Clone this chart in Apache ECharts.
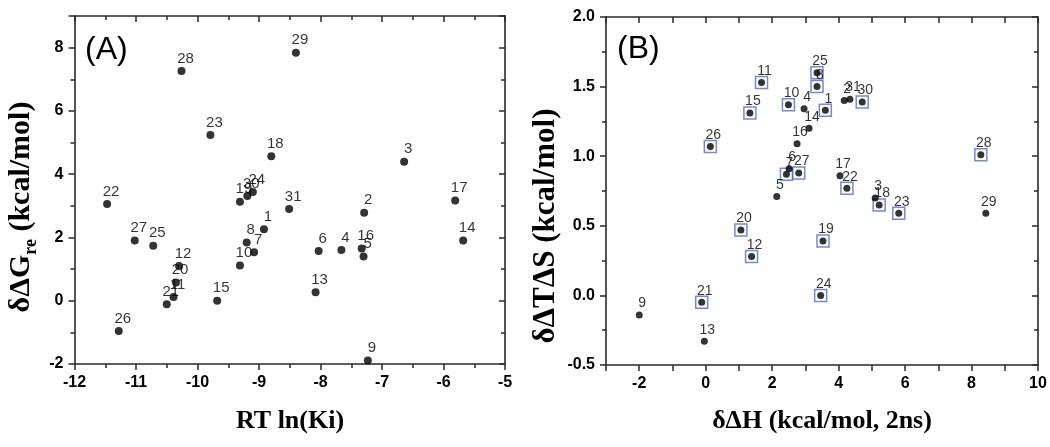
<!DOCTYPE html>
<html><head><meta charset="utf-8">
<script src="https://cdn.jsdelivr.net/npm/echarts@6/dist/echarts.min.js"></script>
<style>html,body{margin:0;padding:0;background:#fff}#c{width:1050px;height:447px}</style>
</head><body><div id="c"></div>
<script>
// Panel A: RT ln(Ki) vs δΔG_re
const idsA = [1,2,3,4,5,6,7,8,9,10,11,12,13,14,15,16,17,18,19,20,21,22,23,24,25,26,27,28,29,30,31];
const rtLnKi = [-8.92,-7.29,-6.64,-7.66,-7.30,-8.03,-9.08,-9.20,-7.23,-9.31,-10.39,-10.30,-8.08,-5.68,-9.68,-7.33,-5.81,-8.80,-9.31,-10.35,-10.50,-11.47,-9.79,-9.10,-10.72,-11.28,-11.02,-10.26,-8.40,-9.19,-8.51];
const ddGre  = [2.26,2.78,4.39,1.60,1.40,1.57,1.53,1.84,-1.89,1.11,0.12,1.10,0.27,1.90,0.00,1.65,3.17,4.57,3.13,0.58,-0.11,3.06,5.24,3.44,1.74,-0.96,1.90,7.26,7.84,3.31,2.90];
// Panel B: δΔH vs δΔTΔS
const idsB = [1,2,3,4,5,6,7,8,9,10,11,12,13,14,15,16,17,18,19,20,21,22,23,24,25,26,27,28,29,30,31];
const ddH   = [3.60,4.17,5.10,2.96,2.14,2.51,2.43,3.35,-2.00,2.49,1.68,1.38,-0.04,3.11,1.33,2.75,4.04,5.22,3.53,1.06,-0.12,4.25,5.81,3.46,3.35,0.14,2.80,8.28,8.43,4.71,4.34];
const ddTdS = [1.33,1.40,0.70,1.34,0.71,0.91,0.87,1.50,-0.14,1.37,1.53,0.28,-0.33,1.20,1.31,1.09,0.86,0.65,0.39,0.47,-0.05,0.77,0.59,0.00,1.60,1.07,0.88,1.01,0.59,1.39,1.41];
const boxedB = [1,7,8,10,11,12,15,18,19,20,21,22,23,24,25,26,27,28,30];
const xLabelsB = [-2,0,2,4,6,8,10];

const dataA = idsA.map((id,i)=>[rtLnKi[i], ddGre[i], id]);
const dataB = idsB.map((id,i)=>[ddH[i], ddTdS[i], id]);
const boxData = dataB.filter(d=>boxedB.indexOf(d[2])>=0);

const AX = '#2a2a2a';
const lineS = {lineStyle:{color:AX,width:1.6}};
const lblS = {color:'#000',fontWeight:'bold',fontSize:16,fontFamily:'"Liberation Sans", Arial, sans-serif'};

function mainAxis(grid, pos, min, max, interval, minorSplit, extraLabel){
  return {
    type:'value', gridIndex:grid, position:pos, min:min, max:max, interval:interval,
    axisLine:Object.assign({show:true,onZero:false},lineS),
    axisTick:{show:true,inside:false,length:6,lineStyle:{color:AX,width:1.5}},
    minorTick:{show:minorSplit>1,splitNumber:minorSplit,length:4,lineStyle:{color:AX,width:1.5}},
    axisLabel:Object.assign({show:true,margin:11},lblS,extraLabel||{}),
    splitLine:{show:false}, minorSplitLine:{show:false}
  };
}
function mirrorAxis(grid, pos, min, max, interval, minorSplit){
  return {
    type:'value', gridIndex:grid, position:pos, min:min, max:max, interval:interval,
    axisLine:Object.assign({show:true,onZero:false},lineS),
    axisTick:{show:true,inside:true,length:6,lineStyle:{color:AX,width:1.5}},
    minorTick:{show:minorSplit>1,splitNumber:minorSplit,length:4,lineStyle:{color:AX,width:1.5}},
    axisLabel:{show:false}, splitLine:{show:false}, minorSplitLine:{show:false}
  };
}

const labelFont = '"Liberation Sans", Arial, sans-serif';
const titleFont = '"Liberation Serif", "Times New Roman", serif';

const option = {
  animation:false,
  backgroundColor:'#fff',
  grid:[
    {left:74.5, top:16, width:430.5, height:348, outerBoundsMode:'none', containLabel:false},
    {left:606, top:17, width:432, height:348, outerBoundsMode:'none', containLabel:false}
  ],
  xAxis:[
    mainAxis(0,'bottom',-12,-5,1,2),
    mirrorAxis(0,'top',-12,-5,1,2),
    mainAxis(1,'bottom',-3,10,1,1,{customValues:xLabelsB}),
    mirrorAxis(1,'top',-3,10,1,1)
  ],
  yAxis:[
    mainAxis(0,'left',-2,9,2,2,{formatter:v=> (v===9?'':String(v))}),
    mirrorAxis(0,'right',-2,9,2,2),
    mainAxis(1,'left',-0.5,2.0,0.5,2,{formatter:v=>v.toFixed(1)}),
    mirrorAxis(1,'right',-0.5,2.0,0.5,2)
  ],
  graphic:[
    {type:'text', x:85, y:50, silent:true, style:{text:'(A)', font:'32px '+labelFont, fill:'#000', align:'left', verticalAlign:'middle'}},
    {type:'text', x:617, y:49, silent:true, style:{text:'(B)', font:'32px '+labelFont, fill:'#000', align:'left', verticalAlign:'middle'}},
    {type:'text', x:290, y:421, silent:true, style:{text:'RT ln(Ki)', font:'bold 26px '+titleFont, fill:'#000', align:'center', verticalAlign:'middle'}},
    {type:'text', x:822, y:421, silent:true, style:{text:'δΔH (kcal/mol, 2ns)', font:'bold 26px '+titleFont, fill:'#000', align:'center', verticalAlign:'middle'}},
    {type:'text', x:21, y:207, rotation:Math.PI/2, silent:true, style:{
      text:'{m|δΔG}{s|re}{m| (kcal/mol)}', align:'center', verticalAlign:'middle', fill:'#000',
      rich:{
        m:{fontFamily:titleFont, fontWeight:'bold', fontSize:30, lineHeight:38, verticalAlign:'middle', fill:'#000'},
        s:{fontFamily:titleFont, fontWeight:'bold', fontSize:18, lineHeight:18, verticalAlign:'bottom', fill:'#000'}
      }}},
    {type:'text', x:546, y:226, rotation:Math.PI/2, silent:true, style:{text:'δΔTΔS (kcal/mol)', font:'bold 31px '+titleFont, fill:'#000', align:'center', verticalAlign:'middle'}}
  ],
  series:[
    {type:'scatter', xAxisIndex:0, yAxisIndex:0, data:dataA, symbol:'circle', symbolSize:8,
     itemStyle:{color:'#000'}, silent:true, emphasis:{disabled:true},
     label:{show:true, position:'top', distance:1, offset:[4,0], formatter:p=>String(p.data[2]),
            color:'#000', fontSize:15, fontFamily:labelFont}, z:3},
    {type:'scatter', xAxisIndex:2, yAxisIndex:2, data:boxData, symbol:'rect', symbolSize:12,
     itemStyle:{color:'rgba(0,0,0,0)', borderColor:'#4f6dc8', borderWidth:1.5}, silent:true, emphasis:{disabled:true}, z:2},
    {type:'scatter', xAxisIndex:2, yAxisIndex:2, data:dataB, symbol:'circle', symbolSize:7,
     itemStyle:{color:'#000'}, silent:true, emphasis:{disabled:true},
     label:{show:true, position:'top', distance:1, offset:[3,0], formatter:p=>String(p.data[2]),
            color:'#000', fontSize:14, fontFamily:labelFont}, z:3}
  ]
};
const chart = echarts.init(document.getElementById('c'), null, {renderer:'canvas'});
chart.setOption(option);
</script></body></html>
